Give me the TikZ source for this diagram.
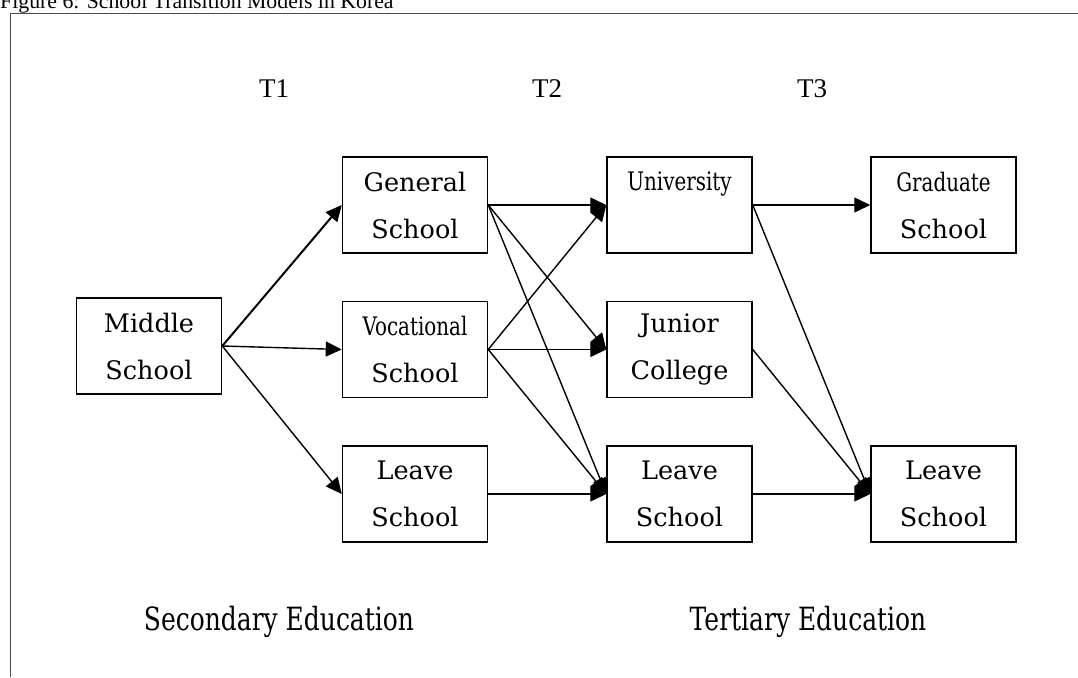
\documentclass[tikz,border=0pt]{standalone}
\usepackage{fontspec}
\setmainfont{DejaVu Serif}
\newfontfamily\condfont[FakeStretch=0.78]{DejaVu Serif}
\newfontfamily\timesfont{Liberation Serif}
\usetikzlibrary{arrows.meta}
\tikzset{
  box/.style={draw, line width=1.5pt, minimum width=145pt, minimum height=96pt, inner sep=0pt, align=center,
    font=\fontsize{25.5}{47}\selectfont},
  arr/.style={line width=1.4pt, -{Triangle[length=16pt,width=15pt]}},
  tlabel/.style={font=\timesfont\fontsize{27}{30}\selectfont, anchor=base},
  edu/.style={font=\condfont\fontsize{32}{36}\selectfont, anchor=base},
}
\begin{document}
\begin{tikzpicture}[x=1pt,y=-1pt]
\useasboundingbox (0,0) rectangle (1078,677);
\clip (0,0) rectangle (1078,677);
\node[font=\timesfont\fontsize{21.8}{24}\selectfont, anchor=base west, inner sep=0pt] (title) at (0,9) {Figure 6: School Transition Models in Korea};
\draw[line width=1pt, black!70] (1078,13.5) -- (10.5,13.5) -- (10.5,677);

\node[tlabel] (t1) at (274,97) {T1};
\node[tlabel] (t2) at (547,97) {T2};
\node[tlabel] (t3) at (812,97) {T3};

\node[box] (mid) at (149,346) {Middle\\School};
\node[box] (gen) at (415,205) {General\\School};
\node[box] (voc) at (415,349.5) {{\condfont Vocational}\\School};
\node[box] (lv1) at (415,494) {Leave\\School};
\node[box] (uni) at (679.5,205) {{\condfont University}\\\mbox{}};
\node[box] (jun) at (679.5,349.5) {Junior\\College};
\node[box] (lv2) at (679.5,494) {Leave\\School};
\node[box] (grad) at (943.5,205) {{\condfont Graduate}\\School};
\node[box] (lv3) at (943.5,494) {Leave\\School};

\draw[arr, line width=2pt] (mid.east) -- (gen.west);
\draw[arr] (mid.east) -- (voc.west);
\draw[arr] (mid.east) -- (lv1.west);
\draw[arr] (gen.east) -- (uni.west);
\draw[arr] (gen.east) -- (jun.west);
\draw[arr] (gen.east) -- (lv2.west);
\draw[arr] (voc.east) -- (uni.west);
\draw[arr] (voc.east) -- (jun.west);
\draw[arr] (voc.east) -- (lv2.west);
\draw[arr] (lv1.east) -- (lv2.west);
\draw[arr] (uni.east) -- (grad.west);
\draw[arr] (uni.east) -- (lv3.west);
\draw[arr] (jun.east) -- (lv3.west);
\draw[arr] (lv2.east) -- (lv3.west);

\node[edu] (sec) at (279,630) {Secondary Education};
\node[edu] (ter) at (808,630) {Tertiary Education};
\end{tikzpicture}
\end{document}
